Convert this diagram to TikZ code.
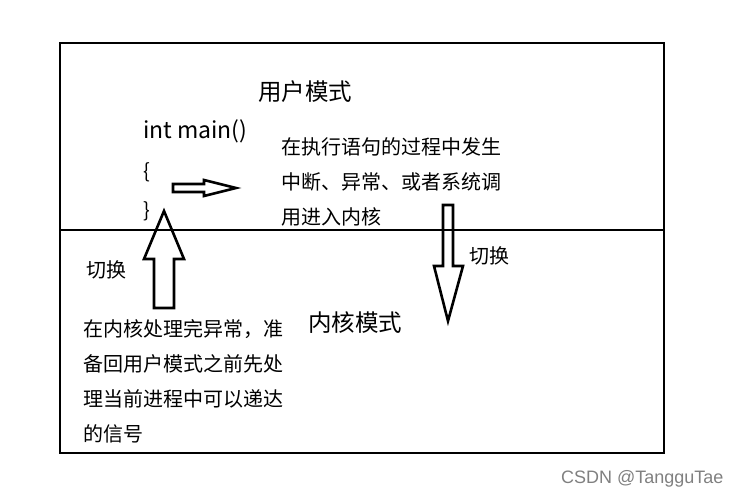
\documentclass[tikz,border=0pt]{standalone}
\usepackage{fontspec}
\setmainfont{Noto Sans CJK SC}
\newfontfamily\markfont{Liberation Sans}
\usetikzlibrary{positioning}

\begin{document}
\begin{tikzpicture}[x=1pt, y=-1pt]

\tikzset{
    modetitle/.style={font=\fontsize{23.5}{28}\selectfont, inner sep=0pt},
    codeline/.style={font=\fontsize{20}{24}\selectfont, anchor=west, inner sep=0pt},
    note/.style={font=\fontsize{20}{35}\selectfont, align=left, anchor=west, inner sep=0pt},
    blockarrow/.style={draw, line width=2.6pt, line join=miter}
}

\useasboundingbox (0,0) rectangle (745,498);

% Outer frame and the user / kernel border
\draw[line width=2.7pt] (60,43) rectangle (664,453);
\draw[line width=2.7pt] (60,230) -- (664,230);

% User mode side
\node[modetitle] (user) at (305,92) {用户模式};
\node[codeline, font=\fontsize{23}{26}\selectfont] (main) at (143,131) {int main()};
\node[codeline] (lbrace) at (143,172) {\{};
\node[codeline] (rbrace) at (143,211) {\}};
\node[note] (entry) at (281,182) {在执行语句的过程中发生\\中断、异常、或者系统调\\用进入内核};

% Kernel mode side
\node[modetitle] (kernel) at (355,323) {内核模式};
\node[note] (back) at (83,381) {在内核处理完异常，准\\备回用户模式之前先处\\理当前进程中可以递达\\的信号};

% Switch labels
\node[codeline] (swdown) at (469,256) {切换};
\node[codeline] (swup) at (86,270) {切换};

% Hollow block arrows
\draw[blockarrow] (173,184) -- (204,184) -- (204,180) -- (236,188)
    -- (204,196) -- (204,192) -- (173,192) -- cycle;
\draw[blockarrow] (443,205) -- (453,205) -- (453,266) -- (463,266)
    -- (448,321) -- (434,266) -- (443,266) -- cycle;
\draw[blockarrow] (154,308) -- (154,259) -- (144,259) -- (164,211)
    -- (184,259) -- (174,259) -- (174,308) -- cycle;

% Watermark
\node[text=gray, font=\markfont\fontsize{18}{20}\selectfont, anchor=east] (csdn) at (727,479) {CSDN @TangguTae};

\end{tikzpicture}
\end{document}
